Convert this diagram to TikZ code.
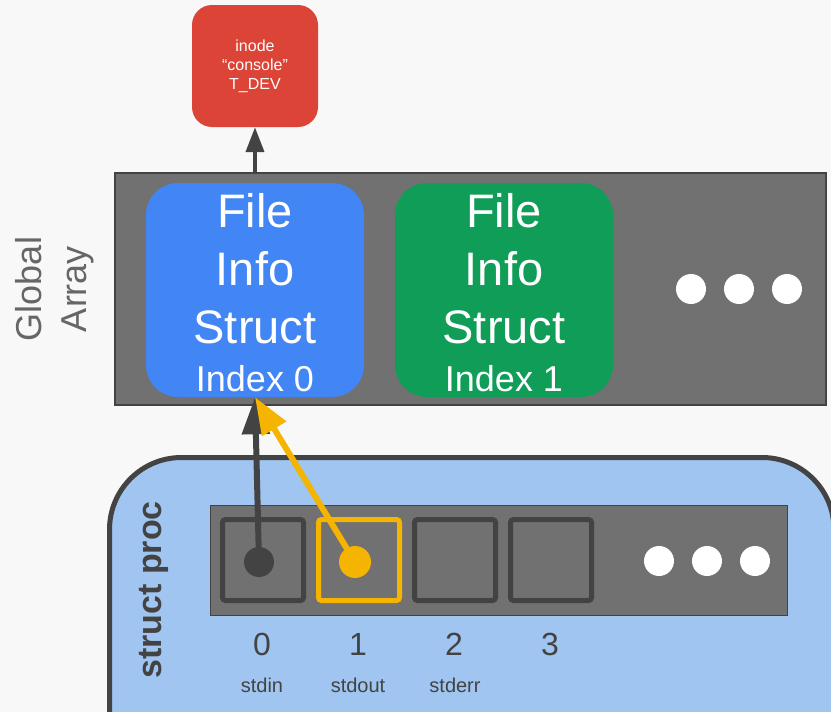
\documentclass[tikz,border=0pt]{standalone}
\usepackage{fontspec}
\setmainfont{Liberation Sans}
\usetikzlibrary{arrows.meta}

\definecolor{bgcol}{HTML}{F8F8F8}
\definecolor{darkc}{HTML}{434343}
\definecolor{grayc}{HTML}{717171}
\definecolor{lblgray}{HTML}{666666}
\definecolor{redc}{HTML}{DB4437}
\definecolor{bluec}{HTML}{4285F4}
\definecolor{greenc}{HTML}{0F9D58}
\definecolor{yellowc}{HTML}{F4B400}
\definecolor{procblue}{HTML}{9FC5F0}

\begin{document}
\begin{tikzpicture}[x=1pt,y=-1pt,
	every node/.style={inner sep=0pt},
	fibox/.style={rounded corners=32pt, minimum width=218pt, minimum height=214pt,
		text=white, align=center, font=\fontsize{47}{58}\selectfont},
	fdbox/.style={fill=grayc, line width=5pt, rounded corners=3pt, minimum size=81pt},
	numlbl/.style={text=darkc, anchor=base, font=\fontsize{32}{32}\selectfont},
	namelbl/.style={text=darkc, anchor=base, font=\fontsize{20}{20}\selectfont},
	ptr/.style={line width=6pt, -{Triangle[length=37pt,width=27pt]}}]
	\useasboundingbox (0,0) rectangle (831,712);
	\clip (0,0) rectangle (831,712);
	\fill[bgcol] (0,0) rectangle (831,712);

	% inode on top
	\node[fill=redc, rounded corners=20pt, minimum width=126pt, minimum height=122pt,
		text=white, align=center, font=\fontsize{16}{19}\selectfont] (inode) at (255,66)
		{inode\\“console”\\T\_DEV};

	% global array
	\node[draw=darkc, fill=grayc, line width=2pt, minimum width=711pt, minimum height=232pt]
		(garray) at (470.5,289) {};
	\node[fibox, fill=bluec] (fis0) at (255,290)
		{\rule{0pt}{40pt}File\\Info\\Struct\\[-10pt]{\fontsize{36}{36}\selectfont Index 0}};
	\node[fibox, fill=greenc] (fis1) at (504,290)
		{\rule{0pt}{40pt}File\\Info\\Struct\\[-10pt]{\fontsize{36}{36}\selectfont Index 1}};
	\foreach \x in {691,739,787}
		\fill[white] (\x,289) circle (15pt);
	\node[rotate=90, text=lblgray, align=center, font=\fontsize{36}{45}\selectfont]
		(glabel) at (55,289) {Global\\Array};

	\draw[darkc, line width=4pt, -{Triangle[length=25pt,width=18pt]}]
		(inode.south |- garray.north) -- (inode.south);

	% struct proc
	\draw[draw=darkc, fill=procblue, line width=5pt, rounded corners=72pt]
		(109.5,457.5) rectangle (834,780);
	\node[rotate=90, text=darkc, font=\bfseries\fontsize{34}{34}\selectfont]
		(plabel) at (154,590) {struct proc};
	\node[draw=darkc, fill=grayc, line width=1.5pt, minimum width=577pt, minimum height=110pt]
		(fdtab) at (499,560.5) {};
	\foreach \i/\x/\c in {0/263/darkc,1/359/yellowc,2/455/darkc,3/551/darkc}
		\node[fdbox, draw=\c] (fd\i) at (\x,560) {};
	\foreach \x in {659,707,755}
		\fill[white] (\x,561) circle (15pt);

	\foreach \i/\x in {0/262,1/358,2/454,3/550}
		\node[numlbl] (num\i) at (\x,655) {\i};
	\node[namelbl] (nm0) at (262,692) {stdin};
	\node[namelbl] (nm1) at (358,692) {stdout};
	\node[namelbl] (nm2) at (455,692) {stderr};

	% pointers into the array
	\node[circle, fill=darkc, minimum size=30pt] (dot0) at (259,562) {};
	\node[circle, fill=yellowc, minimum size=32pt] (dot1) at (355,562) {};
	\draw[ptr, darkc] (dot0.center) -- (fis0.south);
	\draw[ptr, yellowc] (dot1.center) -- (fis0.south);
\end{tikzpicture}
\end{document}
